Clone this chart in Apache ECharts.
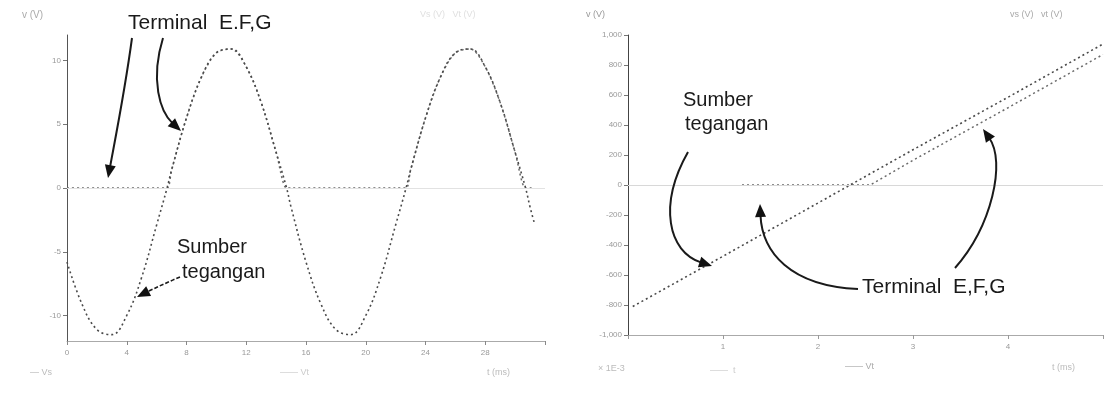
<!DOCTYPE html>
<html><head><meta charset="utf-8">
<script src="https://cdn.jsdelivr.net/npm/echarts@6/dist/echarts.min.js"></script>
<style>html,body{margin:0;padding:0;background:#fff}#c{width:1115px;height:399px}</style>
</head><body><div id="c"></div><script>
// ---- Left panel (v vs t) ----
const leftT = [0,1,2,3,4,5,6,6.7,7,8,9,10,11,12,13,14,14.7,15,16,17,18,19,20,21,22,22.7,23,24,25,26,27,28,29,30,30.7,31,31.3];
const leftSource = [-5.8,-9.1,-11.1,-11.5,-10.0,-7.0,-2.9,0,1.4,5.5,8.7,10.6,10.9,9.5,6.7,2.8,0,-1.5,-5.8,-9.1,-11.1,-11.5,-10.0,-7.0,-2.9,0,1.4,5.5,8.7,10.6,10.9,9.5,6.7,2.8,0,-1.5,-2.8];
const leftTerminal = [0,0,0,0,0,0,0,0,1.4,5.5,8.7,10.6,10.9,9.5,6.7,2.8,0,0,0,0,0,0,0,0,0,0,1.4,5.5,8.7,10.6,10.9,9.5,6.7,2.8,0,0,0];
const leftYTicks = [-10,-5,0,5,10];
// ---- Right panel ----
const rightX = [0.05,1,2,3,4,5];
const rightSource = [-810,-475,-120,235,585,940];
const rightTermX = [1.2,2.55,3,4,5];
const rightTerminal = [0,0,165,515,870];

const chart = echarts.init(document.getElementById('c'), null, {renderer:'canvas'});
const FONT = '"Liberation Sans", Arial, sans-serif';

function arrow(p0, c1, c2, p3, w, dash) {
  const dx = p3[0]-c2[0], dy = p3[1]-c2[1];
  const len = Math.hypot(dx,dy) || 1;
  const ux = dx/len, uy = dy/len;
  const L = 13, H = 5.5;
  const bx = p3[0]-ux*L, by = p3[1]-uy*L;
  return [
    {type:'bezierCurve', shape:{x1:p0[0],y1:p0[1],cpx1:c1[0],cpy1:c1[1],cpx2:c2[0],cpy2:c2[1],x2:bx+ux*2,y2:by+uy*2},
     style:{stroke:'#1a1a1a', lineWidth:w||2, fill:null, lineDash:dash||null}, z:10},
    {type:'polygon', shape:{points:[[p3[0],p3[1]],[bx-uy*H,by+ux*H],[bx+uy*H,by-ux*H]]},
     style:{fill:'#111'}, z:10}
  ];
}
function txt(x,y,t,size,color){
  return {type:'text', x:x, y:y, z:11, style:{text:t, font:(size)+'px '+FONT, fill:color||'#1a1a1a', verticalAlign:'top'}};
}

const graphics = [].concat(
  txt(128,13,'Terminal  E.F,G',21),
  arrow([132,38],[125,90],[115,140],[108,178],2),
  arrow([163,38],[150,80],[160,112],[181,131],2),
  txt(177,237,'Sumber',20),
  txt(182,262,'tegangan',20),
  arrow([180,277],[168,282],[155,288],[137,297],1.6,[4,2]),
  txt(683,90,'Sumber',20),
  txt(685,114,'tegangan',20),
  arrow([688,152],[658,205],[668,252],[712,266],2),
  arrow([858,289],[790,286],[762,252],[760,204],2),
  arrow([955,268],[992,226],[1006,162],[983,129],2),
  txt(862,277,'Terminal  E,F,G',21),
  txt(22,10,'v (V)',10,'#aaa'),
  txt(420,10,'Vs (V)   Vt (V)',9,'#e0e0e0'),
  txt(586,10,'v (V)',9,'#999'),
  txt(1010,10,'vs (V)   vt (V)',9,'#aaa'),
  txt(30,368,'\u2014 Vs',9,'#bbb'),
  txt(280,368,'\u2014\u2014 Vt',9,'#ccc'),
  txt(487,368,'t (ms)',9,'#bbb'),
  txt(598,364,'\u00d7 1E-3',9,'#bbb'),
  txt(710,366,'\u2014\u2014  t',9,'#ccc'),
  txt(845,362,'\u2014\u2014 Vt',9,'#aaa'),
  txt(1052,363,'t (ms)',9,'#bbb')
);

const axLabel = {color:'#999', fontSize:8, fontFamily:FONT};
const lineStyleS = {color:'#4a4a4a', width:1.6, type:[2,3]};
const lineStyleT = {color:'#6a6a6a', width:1.5, type:[2,3]};

chart.setOption({
  animation:false,
  backgroundColor:'#fff',
  grid:[
    {left:67, top:35, width:478, height:306},
    {left:628, top:35, width:475, height:300}
  ],
  xAxis:[
    {type:'value', gridIndex:0, min:0, max:32, interval:4,
     axisLine:{show:true, onZero:false, lineStyle:{color:'#aaa'}},
     axisTick:{show:true, length:4, lineStyle:{color:'#888'}},
     axisLabel:Object.assign({margin:8, formatter:v=> v===32?'':String(v)},axLabel),
     splitLine:{show:false}},
    {type:'value', gridIndex:1, min:0, max:5, interval:1,
     axisLine:{show:true, onZero:false, lineStyle:{color:'#aaa'}},
     axisTick:{show:true, length:4, lineStyle:{color:'#999'}},
     axisLabel:Object.assign({margin:8, formatter:v=> (v===0||v===5)?'':String(v)},axLabel),
     splitLine:{show:false}}
  ],
  yAxis:[
    {type:'value', gridIndex:0, min:-12, max:12,
     axisLine:{show:true, onZero:false, lineStyle:{color:'#555'}},
     axisTick:{show:true, length:4, customValues:leftYTicks, lineStyle:{color:'#777'}},
     axisLabel:Object.assign({customValues:leftYTicks, margin:6},axLabel),
     splitLine:{show:false}},
    {type:'value', gridIndex:1, min:-1000, max:1000, interval:200,
     axisLine:{show:true, onZero:false, lineStyle:{color:'#444'}},
     axisTick:{show:true, length:4, lineStyle:{color:'#777'}},
     axisLabel:Object.assign({margin:6},axLabel),
     splitLine:{show:false}}
  ],
  series:[
    {type:'line', xAxisIndex:0, yAxisIndex:0, name:'Terminal', smooth:0.3, showSymbol:false, z:2,
     data:leftT.map((t,i)=>[t,leftTerminal[i]]), lineStyle:lineStyleT,
     markLine:{silent:true, symbol:'none', label:{show:false}, lineStyle:{color:'#e2e2e2', type:'solid', width:1}, data:[{yAxis:0}]}},
    {type:'line', xAxisIndex:0, yAxisIndex:0, name:'Sumber', smooth:0.4, showSymbol:false, z:3,
     data:leftT.map((t,i)=>[t,leftSource[i]]), lineStyle:lineStyleS},
    {type:'line', xAxisIndex:1, yAxisIndex:1, name:'Terminal', showSymbol:false, z:2,
     data:rightTermX.map((x,i)=>[x,rightTerminal[i]]), lineStyle:lineStyleT,
     markLine:{silent:true, symbol:'none', label:{show:false}, lineStyle:{color:'#d8d8d8', type:'solid', width:1}, data:[{yAxis:0}]}},
    {type:'line', xAxisIndex:1, yAxisIndex:1, name:'Sumber', showSymbol:false, z:3,
     data:rightX.map((x,i)=>[x,rightSource[i]]), lineStyle:lineStyleS}
  ],
  graphic:graphics
});
</script></body></html>
